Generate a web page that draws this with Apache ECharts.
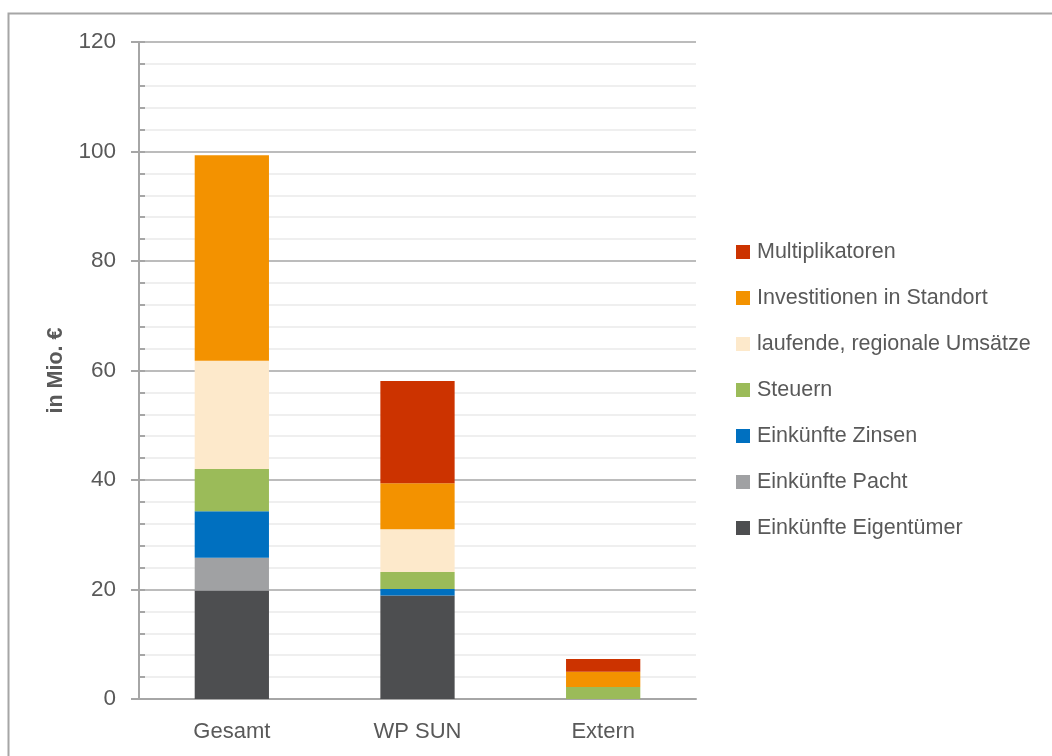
<!DOCTYPE html>
<html>
<head>
<meta charset="utf-8">
<script src="https://cdn.jsdelivr.net/npm/echarts@6/dist/echarts.min.js"></script>
<style>html,body{margin:0;padding:0;background:#fff}#c{width:1052px;height:756px}</style>
</head>
<body>
<div id="c"></div>
<script>
const categories = ['Gesamt', 'WP SUN', 'Extern'];
const seriesNames = ['Einkünfte Eigentümer', 'Einkünfte Pacht', 'Einkünfte Zinsen', 'Steuern', 'laufende, regionale Umsätze', 'Investitionen in Standort', 'Multiplikatoren'];
const eigentuemer = [19.8, 18.9, 0];
const pacht = [6.0, 0, 0];
const zinsen = [8.5, 1.2, 0];
const steuern = [7.7, 3.1, 2.2];
const laufende = [19.8, 7.8, 0];
const investitionen = [37.5, 8.4, 2.8];
const multiplikatoren = [0, 18.7, 2.3];
const yTicks = [0, 20, 40, 60, 80, 100, 120];

const values = [eigentuemer, pacht, zinsen, steuern, laufende, investitionen, multiplikatoren];
const colors = ['#4d4e50', '#a0a1a3', '#0070c0', '#9bbb59', '#fde9cb', '#f39200', '#cc3300'];
const txt = '#595959';
const font = 'Liberation Sans, Arial, sans-serif';

const chart = echarts.init(document.getElementById('c'));
chart.setOption({
  animation: false,
  textStyle: { fontFamily: font },
  graphic: [{
    type: 'rect', left: 6, top: 11, shape: { x: 0, y: 0, width: 1100, height: 800 },
    style: { fill: 'none', stroke: '#a6a6a6', lineWidth: 2 }, silent: true
  }],
  grid: { left: 139, right: 356, top: 42, bottom: 57 },
  legend: {
    orient: 'vertical', left: 736, top: 241, padding: 0, itemWidth: 14, itemHeight: 14, itemGap: 24,
    icon: 'rect',
    data: seriesNames.slice().reverse(),
    textStyle: { color: txt, fontSize: 21.5, lineHeight: 22, padding: [0, 0, 0, 2], fontFamily: font }
  },
  xAxis: {
    type: 'category', data: categories,
    axisLine: { lineStyle: { color: '#a6a6a6', width: 2 } },
    axisTick: { length: 8, lineStyle: { color: '#a6a6a6', width: 2 } },
    axisLabel: { color: txt, fontSize: 22, margin: 22, fontFamily: font }
  },
  yAxis: [{
    type: 'value', min: 0, max: 120, interval: 20,
    name: 'in Mio. €', nameLocation: 'middle', nameGap: 72, nameRotate: 90,
    nameTextStyle: { color: txt, fontSize: 21.5, fontWeight: 'bold', fontFamily: font },
    axisLine: { show: true, lineStyle: { color: '#a6a6a6', width: 2 } },
    axisTick: { show: true, length: 8, lineStyle: { color: '#a6a6a6', width: 2 } },
    axisLabel: { color: txt, fontSize: 22.5, margin: 23, fontFamily: font,
      formatter: v => yTicks.includes(v) ? String(v) : '' },
    splitLine: { lineStyle: { color: '#a6a6a6', width: 1.5 } },
    minorSplitLine: { show: true, lineStyle: { color: '#efefef', width: 2 } },
    minorTick: { show: false, splitNumber: 5 }
  }, {
    type: 'value', min: 0, max: 120, interval: 4, position: 'left',
    axisLine: { show: false },
    axisTick: { show: true, inside: true, length: 6, lineStyle: { color: '#a6a6a6', width: 2 } },
    axisLabel: { show: false },
    splitLine: { show: false }
  }],
  series: seriesNames.map((n, i) => ({
    name: n, type: 'bar', stack: 'total', data: values[i], barWidth: '40%',
    itemStyle: { color: colors[i] }
  }))
});
</script>
</body>
</html>
